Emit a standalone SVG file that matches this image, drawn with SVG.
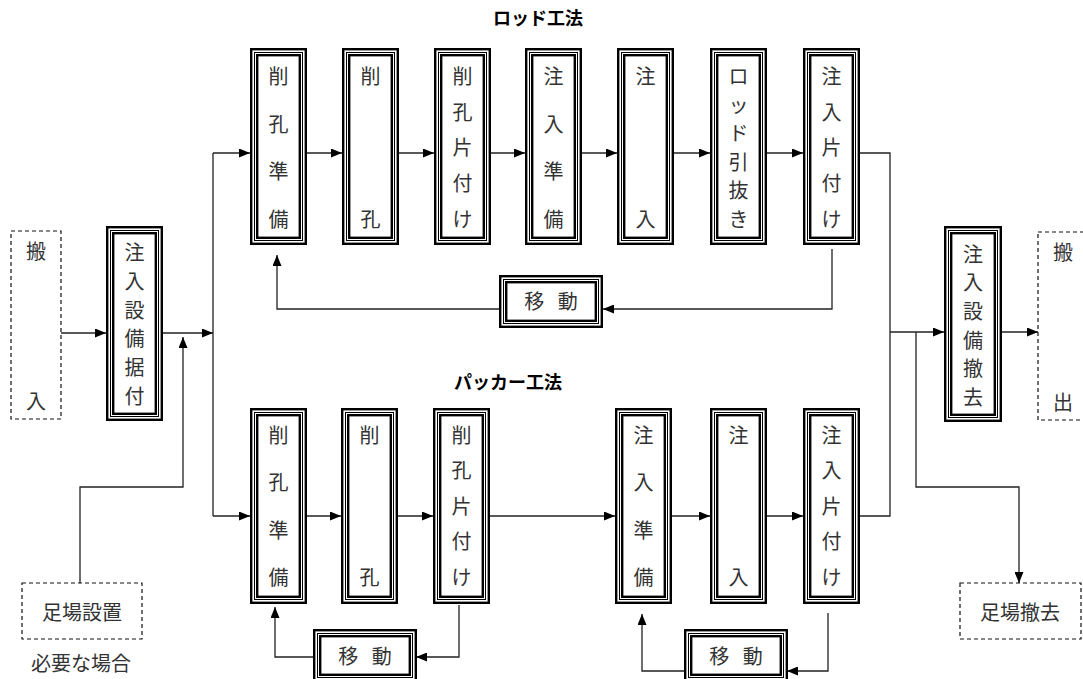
<svg xmlns="http://www.w3.org/2000/svg" width="1083" height="679" viewBox="0 0 1083 679">
<defs>
<style>
.o{fill:#fff;stroke:#000;stroke-width:2.4}
.m{fill:none;stroke:#000;stroke-width:1}
.i{fill:none;stroke:#000;stroke-width:2.4}
.d{fill:#fff;stroke:#111;stroke-width:1.2;stroke-dasharray:4 3}
.t{font-family:"Noto Sans CJK JP","Noto Sans CJK SC",sans-serif;font-size:20px;fill:#333;text-anchor:middle}
.h{font-family:"Noto Sans CJK JP","Noto Sans CJK SC",sans-serif;font-size:18px;font-weight:bold;fill:#000;text-anchor:middle}
.c{fill:none;stroke:#222;stroke-width:1.3}
.a{fill:none;stroke:#222;stroke-width:1.3;marker-end:url(#ah)}
</style>
<marker id="ah" viewBox="0 0 11 9" refX="11" refY="4.5" markerWidth="11" markerHeight="9" markerUnits="userSpaceOnUse" orient="auto">
<path d="M0,0 L11,4.5 L0,9 z" fill="#000"/>
</marker>
</defs>
<rect width="1083" height="679" fill="#fff"/>

<text class="h" x="538" y="25">ロッド工法</text>
<text class="h" x="508" y="389">パッカー工法</text>

<g id="connectors">
<line class="a" x1="61" y1="333" x2="106" y2="333"/>
<line class="a" x1="163" y1="333" x2="213" y2="333"/>
<line class="c" x1="213" y1="153" x2="213" y2="516"/>
<line class="a" x1="213" y1="153" x2="250" y2="153"/>
<line class="a" x1="213" y1="516" x2="250" y2="516"/>
<path class="a" d="M80,583 V487 H183 V337"/>
<line class="a" x1="307" y1="153" x2="342" y2="153"/>
<line class="a" x1="399" y1="153" x2="434" y2="153"/>
<line class="a" x1="491" y1="153" x2="525" y2="153"/>
<line class="a" x1="582" y1="153" x2="617" y2="153"/>
<line class="a" x1="674" y1="153" x2="710" y2="153"/>
<line class="a" x1="767" y1="153" x2="803" y2="153"/>
<path class="c" d="M860,153 H890 V516 H860"/>
<line class="a" x1="890" y1="332" x2="944" y2="332"/>
<path class="a" d="M916,332 V487 H1019 V583"/>
<line class="a" x1="1002" y1="332" x2="1038" y2="332"/>
<path class="a" d="M832,249 V309 H603"/>
<path class="a" d="M499,309 H277 V255"/>
<line class="a" x1="307" y1="516" x2="341" y2="516"/>
<line class="a" x1="398" y1="516" x2="433" y2="516"/>
<line class="a" x1="490" y1="516" x2="615" y2="516"/>
<line class="a" x1="672" y1="516" x2="710" y2="516"/>
<line class="a" x1="767" y1="516" x2="803" y2="516"/>
<path class="a" d="M459,605 V657 H416"/>
<path class="a" d="M313,657 H275 V607"/>
<path class="a" d="M828,613 V671 H787"/>
<path class="a" d="M684,671 H642 V614"/>
</g>

<g id="hannyu">
<rect class="d" x="11" y="231" width="50" height="188"/>
<text class="t" x="36" y="259">搬</text>
<text class="t" x="36" y="409">入</text>
</g>

<g id="setsubi-suetsuke">
<rect class="o" x="107.2" y="227.2" width="54.6" height="192.6"/>
<rect class="m" x="110.5" y="230.5" width="48" height="186"/>
<rect class="i" x="113.2" y="233.2" width="42.6" height="180.6"/>
<text class="t" x="134.5" y="260">注</text>
<text class="t" x="134.5" y="289">入</text>
<text class="t" x="134.5" y="318">設</text>
<text class="t" x="134.5" y="346">備</text>
<text class="t" x="134.5" y="375">据</text>
<text class="t" x="134.5" y="404">付</text>
</g>

<g id="ashiba-secchi">
<rect class="d" x="22" y="583" width="120" height="56"/>
<text class="t" x="82" y="620" font-size="22.5">足場設置</text>
</g>
<text class="t" x="81" y="671" font-size="22">必要な場合</text>

<g id="r1">
<rect class="o" x="251.2" y="49.2" width="54.6" height="194.6"/>
<rect class="m" x="254.5" y="52.5" width="48" height="188"/>
<rect class="i" x="257.2" y="55.2" width="42.6" height="182.6"/>
<text class="t" x="278.5" y="84">削</text>
<text class="t" x="278.5" y="132">孔</text>
<text class="t" x="278.5" y="179">準</text>
<text class="t" x="278.5" y="227">備</text>
</g>
<g id="r2">
<rect class="o" x="343.2" y="49.2" width="54.6" height="194.6"/>
<rect class="m" x="346.5" y="52.5" width="48" height="188"/>
<rect class="i" x="349.2" y="55.2" width="42.6" height="182.6"/>
<text class="t" x="370.5" y="84">削</text>
<text class="t" x="370.5" y="227">孔</text>
</g>
<g id="r3">
<rect class="o" x="435.2" y="49.2" width="54.6" height="194.6"/>
<rect class="m" x="438.5" y="52.5" width="48" height="188"/>
<rect class="i" x="441.2" y="55.2" width="42.6" height="182.6"/>
<text class="t" x="462.5" y="84">削</text>
<text class="t" x="462.5" y="120">孔</text>
<text class="t" x="462.5" y="155">片</text>
<text class="t" x="462.5" y="191">付</text>
<text class="t" x="462.5" y="227">け</text>
</g>
<g id="r4">
<rect class="o" x="526.2" y="49.2" width="54.6" height="194.6"/>
<rect class="m" x="529.5" y="52.5" width="48" height="188"/>
<rect class="i" x="532.2" y="55.2" width="42.6" height="182.6"/>
<text class="t" x="553.5" y="84">注</text>
<text class="t" x="553.5" y="132">入</text>
<text class="t" x="553.5" y="179">準</text>
<text class="t" x="553.5" y="227">備</text>
</g>
<g id="r5">
<rect class="o" x="618.2" y="49.2" width="54.6" height="194.6"/>
<rect class="m" x="621.5" y="52.5" width="48" height="188"/>
<rect class="i" x="624.2" y="55.2" width="42.6" height="182.6"/>
<text class="t" x="645.5" y="84">注</text>
<text class="t" x="645.5" y="227">入</text>
</g>
<g id="r6">
<rect class="o" x="711.2" y="49.2" width="54.6" height="194.6"/>
<rect class="m" x="714.5" y="52.5" width="48" height="188"/>
<rect class="i" x="717.2" y="55.2" width="42.6" height="182.6"/>
<text class="t" x="738.5" y="84">ロ</text>
<text class="t" x="738.5" y="113">ッ</text>
<text class="t" x="738.5" y="141">ド</text>
<text class="t" x="738.5" y="170">引</text>
<text class="t" x="738.5" y="198">抜</text>
<text class="t" x="738.5" y="227">き</text>
</g>
<g id="r7">
<rect class="o" x="804.2" y="49.2" width="54.6" height="194.6"/>
<rect class="m" x="807.5" y="52.5" width="48" height="188"/>
<rect class="i" x="810.2" y="55.2" width="42.6" height="182.6"/>
<text class="t" x="831.5" y="84">注</text>
<text class="t" x="831.5" y="120">入</text>
<text class="t" x="831.5" y="155">片</text>
<text class="t" x="831.5" y="191">付</text>
<text class="t" x="831.5" y="227">け</text>
</g>
<g id="r-move">
<rect class="o" x="500.2" y="276.2" width="101.6" height="50.6"/>
<rect class="m" x="503.5" y="279.5" width="95" height="44"/>
<rect class="i" x="506.2" y="282.2" width="89.6" height="38.6"/>
<text class="t" x="551" y="309" word-spacing="9">移 動</text>
</g>

<g id="p1">
<rect class="o" x="251.2" y="409.2" width="54.6" height="193.6"/>
<rect class="m" x="254.5" y="412.5" width="48" height="187"/>
<rect class="i" x="257.2" y="415.2" width="42.6" height="181.6"/>
<text class="t" x="278.5" y="443">削</text>
<text class="t" x="278.5" y="490">孔</text>
<text class="t" x="278.5" y="538">準</text>
<text class="t" x="278.5" y="585">備</text>
</g>
<g id="p2">
<rect class="o" x="342.2" y="409.2" width="54.6" height="193.6"/>
<rect class="m" x="345.5" y="412.5" width="48" height="187"/>
<rect class="i" x="348.2" y="415.2" width="42.6" height="181.6"/>
<text class="t" x="369.5" y="443">削</text>
<text class="t" x="369.5" y="585">孔</text>
</g>
<g id="p3">
<rect class="o" x="434.2" y="409.2" width="54.6" height="193.6"/>
<rect class="m" x="437.5" y="412.5" width="48" height="187"/>
<rect class="i" x="440.2" y="415.2" width="42.6" height="181.6"/>
<text class="t" x="461.5" y="443">削</text>
<text class="t" x="461.5" y="478">孔</text>
<text class="t" x="461.5" y="514">片</text>
<text class="t" x="461.5" y="549">付</text>
<text class="t" x="461.5" y="585">け</text>
</g>
<g id="p4">
<rect class="o" x="616.2" y="409.2" width="54.6" height="193.6"/>
<rect class="m" x="619.5" y="412.5" width="48" height="187"/>
<rect class="i" x="622.2" y="415.2" width="42.6" height="181.6"/>
<text class="t" x="643.5" y="443">注</text>
<text class="t" x="643.5" y="490">入</text>
<text class="t" x="643.5" y="538">準</text>
<text class="t" x="643.5" y="585">備</text>
</g>
<g id="p5">
<rect class="o" x="711.2" y="409.2" width="54.6" height="193.6"/>
<rect class="m" x="714.5" y="412.5" width="48" height="187"/>
<rect class="i" x="717.2" y="415.2" width="42.6" height="181.6"/>
<text class="t" x="738.5" y="443">注</text>
<text class="t" x="738.5" y="585">入</text>
</g>
<g id="p6">
<rect class="o" x="804.2" y="409.2" width="54.6" height="193.6"/>
<rect class="m" x="807.5" y="412.5" width="48" height="187"/>
<rect class="i" x="810.2" y="415.2" width="42.6" height="181.6"/>
<text class="t" x="831.5" y="443">注</text>
<text class="t" x="831.5" y="478">入</text>
<text class="t" x="831.5" y="514">片</text>
<text class="t" x="831.5" y="549">付</text>
<text class="t" x="831.5" y="585">け</text>
</g>
<g id="p-move1">
<rect class="o" x="314.2" y="630.2" width="101.6" height="50.6"/>
<rect class="m" x="317.5" y="633.5" width="95" height="44"/>
<rect class="i" x="320.2" y="636.2" width="89.6" height="38.6"/>
<text class="t" x="365" y="664" word-spacing="9">移 動</text>
</g>
<g id="p-move2">
<rect class="o" x="685.2" y="630.2" width="101.6" height="50.6"/>
<rect class="m" x="688.5" y="633.5" width="95" height="44"/>
<rect class="i" x="691.2" y="636.2" width="89.6" height="38.6"/>
<text class="t" x="736" y="664" word-spacing="9">移 動</text>
</g>

<g id="setsubi-tekkyo">
<rect class="o" x="945.2" y="227.2" width="55.6" height="193.6"/>
<rect class="m" x="948.5" y="230.5" width="49" height="187"/>
<rect class="i" x="951.2" y="233.2" width="43.6" height="181.6"/>
<text class="t" x="973" y="262">注</text>
<text class="t" x="973" y="290">入</text>
<text class="t" x="973" y="319">設</text>
<text class="t" x="973" y="348">備</text>
<text class="t" x="973" y="376">撤</text>
<text class="t" x="973" y="405">去</text>
</g>

<g id="hanshutsu">
<rect class="d" x="1038" y="232" width="60" height="188"/>
<text class="t" x="1063" y="260">搬</text>
<text class="t" x="1063" y="410">出</text>
</g>

<g id="ashiba-tekkyo">
<rect class="d" x="960" y="583" width="121" height="56"/>
<text class="t" x="1020" y="620" font-size="22.5">足場撤去</text>
</g>
</svg>
